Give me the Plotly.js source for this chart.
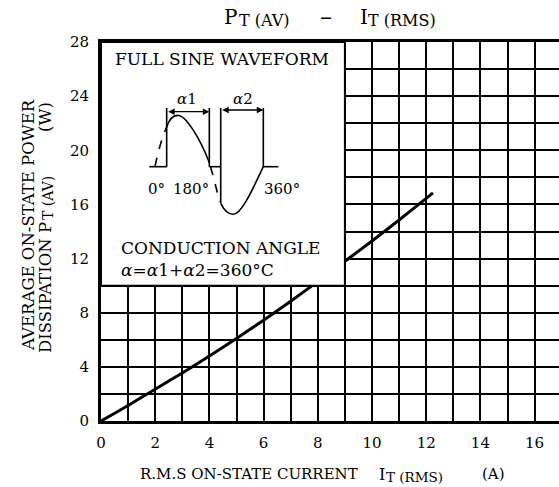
<!DOCTYPE html>
<html><head><meta charset="utf-8">
<script src="https://cdn.plot.ly/plotly-3.0.1.min.js"></script>
<style>html,body{margin:0;padding:0;background:#fff;overflow:hidden}</style>
</head><body><div id="chart" style="width:559px;height:487px"></div>
<script>
// Data
const currentA = [0, 1, 2, 3, 4, 5, 6, 7, 8, 9, 10, 11, 12, 12.25];
const powerW   = [0, 1.15, 2.35, 3.55, 4.8, 6.1, 7.45, 8.85, 10.3, 11.8, 13.3, 14.85, 16.45, 16.85];
const xTickVals = [0, 2, 4, 6, 8, 10, 12, 14, 16];
const yTickVals = [0, 4, 8, 12, 16, 20, 24, 28];

const FONT = '"DejaVu Serif", "Liberation Serif", serif';
const L = 101, R = 559, T = 42, B = 421;
const X = px => (px - L) / (R - L);
const Y = py => (B - py) / (B - T);
const P = (px, py) => X(px).toFixed(4) + ',' + Y(py).toFixed(4);

const trace = {
  x: currentA, y: powerW, type: 'scatter', mode: 'lines',
  line: {color: '#000', width: 3, shape: 'spline', smoothing: 0.8},
  hoverinfo: 'skip', showlegend: false
};

function pathShape(d, dash, w) {
  return {type: 'path', xref: 'paper', yref: 'paper', path: d, layer: 'above',
    line: {color: '#000', width: w || 1.6, dash: dash || 'solid'}};
}

const shapes = [
  {type: 'rect', xref: 'x', yref: 'y', x0: 0, x1: 9, y0: 10, y1: 28, layer: 'above',
   fillcolor: '#fff', line: {color: '#000', width: 2}},
  pathShape('M' + P(149.3,166.7) + ' L' + P(166.7,166.7)),
  pathShape('M' + P(155,166.7) + ' Q' + P(160,142) + ' ' + P(166.7,127), 'dash'),
  pathShape('M' + P(166.7,108) + ' L' + P(166.7,166.7)),
  pathShape('M' + P(166.7,127) + ' C' + P(170,117) + ' ' + P(174,114.5) + ' ' + P(179.3,115.5) +
            ' C' + P(186,117) + ' ' + P(199,136) + ' ' + P(209.5,163)),
  pathShape('M' + P(209.3,108) + ' L' + P(209.3,166.7)),
  pathShape('M' + P(209.3,166.7) + ' L' + P(220.7,166.7)),
  pathShape('M' + P(210.5,166.7) + ' Q' + P(215,182) + ' ' + P(219.5,202), 'dash'),
  pathShape('M' + P(220.7,108) + ' L' + P(220.7,203.3)),
  pathShape('M' + P(220.7,203.3) + ' C' + P(224,210) + ' ' + P(228,214.3) + ' ' + P(233.3,214.3) +
            ' C' + P(241,214.3) + ' ' + P(251,193) + ' ' + P(263.3,166.7)),
  pathShape('M' + P(263.3,108) + ' L' + P(263.3,166.7)),
  pathShape('M' + P(263.3,166.7) + ' L' + P(278.3,166.7))
];

function txt(text, px, py, size, xanchor, extra) {
  return Object.assign({xref: 'paper', yref: 'paper', x: X(px), y: Y(py), text: text,
    showarrow: false, xanchor: xanchor || 'center', yanchor: 'middle',
    font: {family: FONT, size: size, color: '#000'}}, extra || {});
}
function darrow(x0, x1, py) {
  return {xref: 'paper', yref: 'paper', x: X(x1), y: Y(py), ax: -(x1 - x0), ay: 0,
    text: '', showarrow: true, arrowside: 'end+start', arrowhead: 2, arrowsize: 1,
    arrowwidth: 1.3, arrowcolor: '#000', standoff: 0, startstandoff: 0};
}
const ROT = {textangle: -90};

const annotations = [
  // chart title
  txt('P', 222, 17, 20, 'left'),
  txt('T (AV)', 237, 20, 16, 'left'),
  txt('–', 326, 17, 24),
  txt('I', 358, 17, 20, 'left'),
  txt('T (RMS)', 366, 20, 16, 'left'),
  // inset
  txt('FULL SINE WAVEFORM', 113, 58.7, 17, 'left'),
  txt('<i>α</i>1', 187, 99, 15),
  txt('<i>α</i>2', 243, 99, 15),
  darrow(166.7, 209.3, 111.7),
  darrow(220.7, 263.3, 110),
  txt('0°', 156, 189, 15),
  txt('180°', 191, 189, 15),
  txt('360°', 282, 189, 15),
  txt('CONDUCTION ANGLE', 119, 248, 17, 'left'),
  txt('<i>α</i>=<i>α</i>1+<i>α</i>2=360°C', 119, 270, 17, 'left'),
  // x axis title
  txt('R.M.S ON-STATE CURRENT', 138, 474, 15, 'left'),
  txt('I', 377, 474, 16, 'left'),
  txt('T (RMS)', 384, 477, 13.5, 'left'),
  txt('(A)', 480, 474, 15, 'left'),
  // y axis title
  txt('AVERAGE ON-STATE POWER', 28, 225, 16.5, 'center', ROT),
  txt('DISSIPATION P', 45, 288, 16.5, 'center', ROT),
  txt('T (AV)', 48, 198, 14, 'center', ROT),
  txt('(W)', 45, 117, 16.5, 'center', ROT)
];

const axisCommon = {
  showgrid: true, gridcolor: '#000', gridwidth: 2,
  showline: true, linecolor: '#000', linewidth: 3,
  zeroline: false, ticks: 'outside', ticklen: 6, tickcolor: 'rgba(0,0,0,0)',
  tickfont: {family: FONT, size: 15, color: '#000'}, fixedrange: true
};

const layout = {
  width: 559, height: 487,
  margin: {l: L, r: 0, t: T, b: 487 - B, pad: 0},
  paper_bgcolor: '#fff', plot_bgcolor: '#fff',
  showlegend: false,
  xaxis: Object.assign({}, axisCommon, {
    range: [0, (R - L) / 27.1], tickvals: xTickVals, ticktext: xTickVals.map(String),
    minor: {dtick: 1, tick0: 0, showgrid: true, gridcolor: '#000', gridwidth: 2},
    mirror: true
  }),
  yaxis: Object.assign({}, axisCommon, {
    range: [0, 28], tickvals: yTickVals, ticktext: yTickVals.map(String),
    minor: {dtick: 2, tick0: 0, showgrid: true, gridcolor: '#000', gridwidth: 2},
    mirror: false
  }),
  shapes: shapes,
  annotations: annotations
};

Plotly.newPlot('chart', [trace], layout, {displayModeBar: false, staticPlot: true});
</script></body></html>
